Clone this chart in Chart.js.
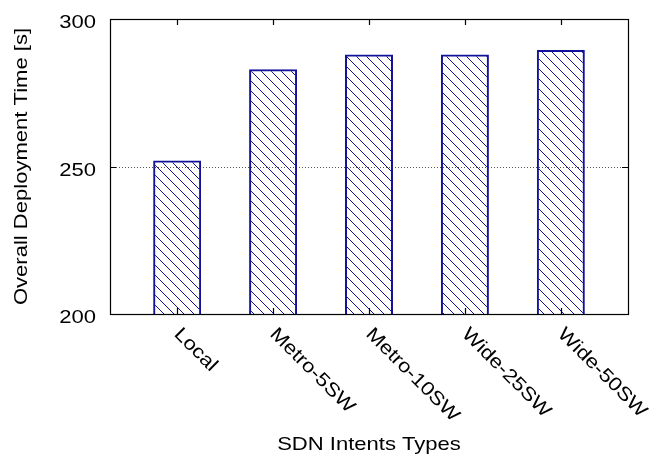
<!DOCTYPE html>
<html>
<head>
<meta charset="utf-8">
<script src="https://cdn.jsdelivr.net/npm/chart.js@4.4.1/dist/chart.umd.min.js"></script>
<style>
  html, body { margin: 0; padding: 0; background: #fff; }
  canvas { display: block; }
</style>
</head>
<body>
<canvas id="deployChart" width="651" height="457"></canvas>
<script>
const categories = ["Local", "Metro-5SW", "Metro-10SW", "Wide-25SW", "Wide-50SW"];
const deploymentTimes = [252, 283, 288, 288, 289.5];
const yTicks = [200, 250, 300];
const xTitle = "SDN Intents Types";
const yTitle = "Overall Deployment Time [s]";

const FONT = '19px "Liberation Sans", Arial, sans-serif';
const STRETCH = 1.16;
const NAVY = "#12129a";

// diagonal hatch like gnuplot's fill pattern
function makeHatch() {
  const c = document.createElement("canvas");
  c.width = 10;
  c.height = 10;
  const g = c.getContext("2d");
  g.strokeStyle = NAVY;
  g.lineWidth = 1;
  g.beginPath();
  g.moveTo(-2, -2); g.lineTo(12, 12);
  g.moveTo(-12, -2); g.lineTo(2, 12);
  g.moveTo(8, -2); g.lineTo(22, 12);
  g.stroke();
  return g.createPattern(c, "repeat");
}

function drawText(ctx, text, x, y, angle, align) {
  ctx.save();
  ctx.translate(x, y);
  ctx.rotate(angle);
  ctx.scale(STRETCH, 1);
  ctx.textAlign = align;
  ctx.textBaseline = "alphabetic";
  ctx.fillText(text, 0, 0);
  ctx.restore();
}

const gnuplotFrame = {
  id: "gnuplotFrame",
  beforeDatasetsDraw(chart) {
    const ctx = chart.ctx;
    const a = chart.chartArea;
    const y = chart.scales.y;
    ctx.save();
    ctx.strokeStyle = "#555";
    ctx.lineWidth = 1;
    ctx.setLineDash([1, 2]);
    yTicks.forEach(function (v) {
      if (v <= y.min || v >= y.max) return;
      const py = Math.round(y.getPixelForValue(v)) + 0.5;
      ctx.beginPath();
      ctx.moveTo(a.left, py);
      ctx.lineTo(a.right, py);
      ctx.stroke();
    });
    ctx.restore();
  },
  afterDatasetsDraw(chart) {
    const ctx = chart.ctx;
    const a = chart.chartArea;
    const x = chart.scales.x;
    const y = chart.scales.y;
    ctx.save();
    ctx.strokeStyle = "#000";
    ctx.lineWidth = 1.2;
    ctx.strokeRect(a.left + 0.5, a.top + 0.5, a.right - a.left, a.bottom - a.top);

    // tick marks, pointing inward, mirrored
    const tl = 6;
    ctx.beginPath();
    categories.forEach(function (c, i) {
      const px = Math.round(x.getPixelForValue(i)) + 0.5;
      ctx.moveTo(px, a.top);
      ctx.lineTo(px, a.top + tl);
      ctx.moveTo(px, a.bottom);
      ctx.lineTo(px, a.bottom - tl);
    });
    yTicks.forEach(function (v) {
      const py = Math.round(y.getPixelForValue(v)) + 0.5;
      ctx.moveTo(a.left, py);
      ctx.lineTo(a.left + tl, py);
      ctx.moveTo(a.right, py);
      ctx.lineTo(a.right - tl, py);
    });
    ctx.stroke();

    ctx.fillStyle = "#000";
    ctx.font = FONT;
    // y tick labels
    yTicks.forEach(function (v) {
      drawText(ctx, String(v), a.left - 14, y.getPixelForValue(v) + 9, 0, "right");
    });
    // x tick labels, rotated clockwise
    categories.forEach(function (c, i) {
      drawText(ctx, c, x.getPixelForValue(i) - 4, a.bottom + 21, Math.PI / 4, "left");
    });
    // axis titles
    drawText(ctx, xTitle, (a.left + a.right) / 2, 450, 0, "center");
    drawText(ctx, yTitle, 27, (a.top + a.bottom) / 2, -Math.PI / 2, "center");
    ctx.restore();
  }
};

const canvas = document.getElementById("deployChart");

new Chart(canvas.getContext("2d"), {
  type: "bar",
  data: {
    datasets: [
      {
        label: "Deployment time",
        data: categories.map(function (c, i) {
          return { x: i, y: deploymentTimes[i] };
        }),
        backgroundColor: makeHatch(),
        borderColor: NAVY,
        borderWidth: 2,
        borderSkipped: false,
        barPercentage: 0.5,
        categoryPercentage: 1.0,
      },
    ],
  },
  options: {
    responsive: false,
    animation: false,
    layout: { padding: { top: 19, right: 23, bottom: 0, left: 0 } },
    plugins: {
      legend: { display: false },
      tooltip: { enabled: false },
    },
    scales: {
      x: {
        type: "linear",
        offset: false,
        min: -0.7,
        max: 4.7,
        afterBuildTicks: function (s) {
          s.ticks = categories.map(function (c, i) { return { value: i }; });
        },
        afterFit: function (s) { s.height = 143; },
        ticks: { display: false },
        grid: { display: false, drawTicks: false, offset: false },
        border: { display: false },
      },
      y: {
        min: 200,
        max: 300,
        afterBuildTicks: function (s) {
          s.ticks = yTicks.map(function (v) { return { value: v }; });
        },
        afterFit: function (s) { s.width = 110; },
        ticks: { display: false },
        grid: { display: false, drawTicks: false },
        border: { display: false },
      },
    },
  },
  plugins: [gnuplotFrame],
});
</script>
</body>
</html>
